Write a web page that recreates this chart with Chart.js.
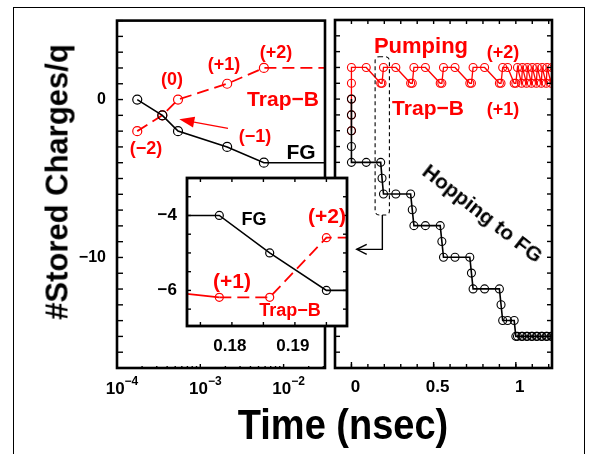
<!DOCTYPE html>
<html><head><meta charset="utf-8">
<script src="https://cdn.jsdelivr.net/npm/chart.js@4.4.1/dist/chart.umd.min.js"></script>
<style>
html,body{margin:0;padding:0;background:#fff;}
#wrap{position:relative;width:589px;height:454px;overflow:hidden;background:#fff;font-family:"Liberation Sans",Arial,Helvetica,sans-serif;font-weight:bold;}
#wrap canvas{position:absolute;left:0;top:0;}
.t{position:absolute;white-space:nowrap;line-height:1;transform:translate(-50%,-50%);color:#000;}
.r{color:#ff0000;}
</style></head><body>
<div id="wrap">
<div style="position:absolute;left:13px;top:7px;width:570px;height:470px;border:1.5px solid #000;"></div>
<canvas id="cL" width="589" height="454"></canvas>
<canvas id="cR" width="589" height="454"></canvas>
<canvas id="cI" width="589" height="454"></canvas>

<div class="t" style="left:57px;top:182px;font-size:31px;transform:translate(-50%,-50%) rotate(-90deg);">#Stored Charges/q</div>
<div class="t" style="left:343px;top:425px;font-size:38px;transform:translate(-50%,-50%) scaleY(1.1);">Time (nsec)</div>

<div class="t r" style="left:146px;top:148px;font-size:18px;">(−2)</div>
<div class="t r" style="left:172px;top:79px;font-size:18px;">(0)</div>
<div class="t r" style="left:224px;top:64px;font-size:18px;">(+1)</div>
<div class="t r" style="left:276px;top:52px;font-size:18px;">(+2)</div>
<div class="t r" style="left:283px;top:98px;font-size:21px;">Trap−B</div>
<div class="t r" style="left:255px;top:136px;font-size:18px;">(−1)</div>
<div class="t" style="left:301px;top:151px;font-size:21px;">FG</div>

<div class="t r" style="left:421px;top:46px;font-size:22px;">Pumping</div>
<div class="t r" style="left:503px;top:52px;font-size:18px;">(+2)</div>
<div class="t r" style="left:428px;top:107px;font-size:21px;">Trap−B</div>
<div class="t r" style="left:503px;top:109px;font-size:18px;">(+1)</div>
<div class="t" style="left:483px;top:213px;font-size:21px;transform:translate(-50%,-50%) rotate(38deg);">Hopping to FG</div>

<div class="t" style="left:254px;top:219px;font-size:18px;">FG</div>
<div class="t r" style="left:327px;top:215px;font-size:21px;">(+2)</div>
<div class="t r" style="left:232px;top:280px;font-size:21px;">(+1)</div>
<div class="t r" style="left:290px;top:310px;font-size:18px;">Trap−B</div>
</div>
<script>
// ================= DATA =================
// Left panel (log time axis)
const leftTime = [1.75e-4, 3.5e-4, 5.4e-4, 2.1e-3, 5.8e-3, 0.05];
const leftFG   = [0, -1, -2, -3, -4, -4];
const leftTrap = [-2, -1, 0, 1, 2, 2];
const leftXTicks  = [1e-4, 1e-3, 1e-2];
const leftXLabels = ['10^−4', '10^−3', '10^−2'];
const leftXMinor  = [2e-4,3e-4,4e-4,5e-4,6e-4,7e-4,8e-4,9e-4,2e-3,3e-3,4e-3,5e-3,6e-3,7e-3,8e-3,9e-3,2e-2,3e-2];
const yTicks      = [0, -10];
const yTickLabels = ['0', '−10'];
const yMinor      = [5,4,3,2,1,0,-1,-2,-3,-4,-5,-6,-7,-8,-9,-10,-11,-12,-13,-14,-15,-16,-17];

// Right panel (linear time axis)
const rightTime = [0,0,0,0,0, 0.09, 0.178,0.186,0.195, 0.27, 0.36,0.37,0.38, 0.45, 0.54,0.55,0.56, 0.63, 0.72,0.73,0.74, 0.81, 0.90,0.91,0.92, 0.95, 0.99,1.00,
  1.01,1.035,1.04,1.065,1.07,1.095,1.10,1.125,1.13,1.155,1.16,1.185,1.19,1.215,1.22];
const rightFG = [0,-1,-2,-3,-4, -4, -4,-5,-6, -6, -6,-7,-8, -8, -8,-9,-10, -10, -10,-11,-12, -12, -12,-13,-14, -14, -14,-15,
  -15,-15,-15,-15,-15,-15,-15,-15,-15,-15,-15,-15,-15,-15,-15];
const rightTrap = [-2,-1,0,1,2, 2, 1,1,2, 2, 1,1,2, 2, 1,1,2, 2, 1,1,2, 2, 1,1,2, 2, 1,1,
  2,1,2,1,2,1,2,1,2,1,2,1,2,1,2];
const rightXTicks  = [0, 0.5, 1];
const rightXLabels = ['0', '0.5', '1'];
const rightXMinor  = [-0.1,0,0.1,0.2,0.3,0.4,0.5,0.6,0.7,0.8,0.9,1.0,1.1,1.2];

// Inset (zoom of right panel around t = 0.18 ns)
const insetXTicks  = [0.18, 0.19];
const insetXLabels = ['0.18', '0.19'];
const insetYTicks  = [-4, -6];
const insetYLabels = ['−4', '−6'];
const insetYMinor  = [-3.5,-4,-4.5,-5,-5.5,-6,-6.5];
const insetXMinor  = [0.175,0.18,0.185,0.19,0.195];

// ================= HELPERS =================
const FONT = '"Liberation Sans", Arial, sans-serif';
const RED = '#ff0000';
const LX_MAX = 0.0314;

function pts(xs, ys){ return xs.map((x,i)=>({x:x, y:ys[i]})); }

function framePlugin(name, spec){
  return { id:'frame_'+name,
    beforeDatasetsDraw(chart){
      if(!spec.fill) return;
      const a = chart.chartArea, ctx = chart.ctx;
      ctx.save(); ctx.fillStyle = '#fff'; ctx.fillRect(a.left, a.top, a.width, a.height); ctx.restore();
    },
    afterDatasetsDraw(chart){
      const a = chart.chartArea, ctx = chart.ctx;
      ctx.save();
      ctx.strokeStyle = '#000'; ctx.lineWidth = 1.4;
      for(const tk of spec.ticks){
        const sc = chart.scales[tk.axis];
        for(const v of tk.values){
          const p = sc.getPixelForValue(v);
          for(const side of tk.sides){
            ctx.beginPath();
            if(side==='bottom'){ ctx.moveTo(p,a.bottom); ctx.lineTo(p,a.bottom-tk.len); }
            else if(side==='top'){ ctx.moveTo(p,a.top); ctx.lineTo(p,a.top+tk.len); }
            else if(side==='left'){ ctx.moveTo(a.left,p); ctx.lineTo(a.left+tk.len,p); }
            else { ctx.moveTo(a.right,p); ctx.lineTo(a.right-tk.len,p); }
            ctx.stroke();
          }
        }
      }
      ctx.lineWidth = spec.frameWidth;
      ctx.strokeRect(a.left, a.top, a.width, a.height);
      ctx.restore();
    }
  };
}

const base = () => ({ responsive:false, animation:false, devicePixelRatio:1, events:[],
  plugins:{ legend:{display:false}, tooltip:{enabled:false} } });

function tickFont(size){ return {family:FONT, size:size, weight:'bold'}; }
const noGrid = {display:false, drawTicks:false};

// ================= LEFT PANEL =================
const leftArrow = { id:'leftArrow', afterDatasetsDraw(chart){
  const {ctx, scales:{x,y}} = chart;
  const tx = x.getPixelForValue(5.6e-4), ty = y.getPixelForValue(-1.25);
  const sx = x.getPixelForValue(2.15e-3), sy = y.getPixelForValue(-1.83);
  const ang = Math.atan2(sy-ty, sx-tx), L = 15, W = 5.5;
  const bx = tx + L*Math.cos(ang), by = ty + L*Math.sin(ang);
  ctx.save(); ctx.strokeStyle = RED; ctx.fillStyle = RED; ctx.lineWidth = 1.3;
  ctx.beginPath(); ctx.moveTo(sx,sy); ctx.lineTo(bx,by); ctx.stroke();
  ctx.beginPath(); ctx.moveTo(tx,ty);
  ctx.lineTo(bx + W*Math.sin(ang), by - W*Math.cos(ang));
  ctx.lineTo(bx - W*Math.sin(ang), by + W*Math.cos(ang));
  ctx.closePath(); ctx.fill();
  ctx.restore();
}};

// power-of-ten tick labels with a real superscript exponent, placed at the log scale's ticks
const logLabels = { id:'logLabels', afterDraw(chart){
  const {ctx} = chart; const sx = chart.scales.x;
  ctx.save(); ctx.fillStyle = '#000'; ctx.textAlign = 'left'; ctx.textBaseline = 'alphabetic';
  sx.ticks.forEach((t, i) => {
    const parts = leftXLabels[i].split('^');
    const px = sx.getPixelForValue(t.value) + 5;
    ctx.font = 'bold 17px ' + FONT; const wb = ctx.measureText(parts[0]).width;
    ctx.font = 'bold 12px ' + FONT; const we = ctx.measureText(parts[1]).width;
    const left = px - (wb + we) / 2;
    const yb = sx.top + 25.5;
    ctx.font = 'bold 17px ' + FONT; ctx.fillText(parts[0], left, yb);
    ctx.font = 'bold 12px ' + FONT; ctx.fillText(parts[1], left + wb, yb - 8.5);
  });
  ctx.restore();
}};

new Chart(document.getElementById('cL'), {
  type:'scatter',
  data:{ datasets:[
    { data: pts(leftTime, leftFG), showLine:true, borderColor:'#000', borderWidth:1.6,
      pointRadius: leftTime.map(t => t > LX_MAX ? 0 : 4.5), pointBorderColor:'#000',
      pointBackgroundColor:'rgba(0,0,0,0)', pointBorderWidth:1.2 },
    { data: pts(leftTime, leftTrap), showLine:true, borderColor:RED, borderWidth:1.8, borderDash:[12,6],
      pointRadius: leftTime.map(t => t > LX_MAX ? 0 : 4.5), pointBorderColor:RED,
      pointBackgroundColor:'rgba(0,0,0,0)', pointBorderWidth:1.2 }
  ]},
  options: Object.assign(base(), {
    layout:{ padding:{left:0, top:20, right:264, bottom:0} },
    scales:{
      x:{ type:'logarithmic', position:'bottom', min:1e-4, max:LX_MAX,
          grid:noGrid, border:{display:false},
          afterFit: s => { s.height = 86; },
          afterBuildTicks: s => { s.ticks = leftXTicks.map(v => ({value:v})); },
          ticks:{ display:false, autoSkip:false, callback:(v,i) => leftXLabels[i] } },
      y:{ type:'linear', min:-17, max:5, grid:noGrid, border:{display:false},
          afterFit: s => { s.width = 117; },
          afterBuildTicks: s => { s.ticks = yTicks.map(v => ({value:v})); },
          ticks:{ padding:11, color:'#000', font:tickFont(16), callback:(v,i) => yTickLabels[i] } }
    }
  }),
  plugins:[ framePlugin('L', { frameWidth:2.6, ticks:[
      {axis:'x', values:leftXMinor, len:2, sides:['bottom']},
      {axis:'x', values:leftXTicks, len:4, sides:['bottom']},
      {axis:'y', values:yMinor, len:6, sides:['left']} ]}), leftArrow, logLabels ]
});

// ================= RIGHT PANEL =================
const rightExtras = { id:'rightExtras', afterDatasetsDraw(chart){
  const {ctx, scales:{x,y}} = chart;
  const L = x.getPixelForValue(0.144), R = x.getPixelForValue(0.231);
  const T = y.getPixelForValue(2.68), B = y.getPixelForValue(-7.33);
  ctx.save(); ctx.strokeStyle = '#000'; ctx.lineWidth = 1.1; ctx.setLineDash([4,3]);
  ctx.beginPath(); ctx.roundRect(L, T, R-L, B-T, 4); ctx.stroke();
  ctx.setLineDash([]); ctx.lineWidth = 1.4;
  const mx = x.getPixelForValue(0.188), ay = y.getPixelForValue(-9.5), tip = x.getPixelForValue(0.032);
  ctx.beginPath(); ctx.moveTo(mx, B); ctx.lineTo(mx, ay); ctx.lineTo(tip, ay); ctx.stroke();
  ctx.beginPath(); ctx.moveTo(tip+10, ay-5); ctx.lineTo(tip, ay); ctx.lineTo(tip+10, ay+5); ctx.stroke();
  ctx.restore();
}};

new Chart(document.getElementById('cR'), {
  type:'scatter',
  data:{ datasets:[
    { data: pts(rightTime, rightFG), showLine:true, borderColor:'#000', borderWidth:1.6,
      pointRadius:4, pointBorderColor:'#000', pointBackgroundColor:'rgba(0,0,0,0)', pointBorderWidth:1.1 },
    { data: pts(rightTime, rightTrap), showLine:true, borderColor:RED, borderWidth:1.3,
      pointRadius:4, pointBorderColor:RED, pointBackgroundColor:'rgba(0,0,0,0)', pointBorderWidth:1.1 }
  ]},
  options: Object.assign(base(), {
    layout:{ padding:{left:335, top:20, right:37, bottom:0} },
    scales:{
      x:{ type:'linear', position:'bottom', min:-0.1, max:1.22, grid:noGrid, border:{display:false},
          afterFit: s => { s.height = 86; },
          afterBuildTicks: s => { s.ticks = rightXTicks.map(v => ({value:v})); },
          ticks:{ autoSkip:false, maxRotation:0, minRotation:0, padding:9, labelOffset:4, color:'#000',
                  font:tickFont(17), callback:(v,i) => rightXLabels[i] } },
      y:{ type:'linear', display:false, min:-17, max:5 }
    }
  }),
  plugins:[ framePlugin('R', { frameWidth:2.6, ticks:[
      {axis:'x', values:rightXMinor, len:4, sides:['bottom','top']},
      {axis:'x', values:rightXTicks, len:6, sides:['bottom']},
      {axis:'y', values:yMinor, len:5, sides:['left','right']} ]}), rightExtras ]
});

// ================= INSET =================
new Chart(document.getElementById('cI'), {
  type:'scatter',
  data:{ datasets:[
    { data: pts(rightTime, rightFG), showLine:true, borderColor:'#000', borderWidth:1.6, yAxisID:'y',
      pointRadius:4, pointBorderColor:'#000', pointBackgroundColor:'rgba(0,0,0,0)', pointBorderWidth:1.2 },
    { data: pts(rightTime, rightTrap), showLine:true, borderColor:RED, borderWidth:1.8, yAxisID:'y2',
      segment:{ borderDash: c => c.p0.parsed.x >= 0.177 ? [12,6] : undefined },
      pointRadius:4, pointBorderColor:RED, pointBackgroundColor:'rgba(0,0,0,0)', pointBorderWidth:1.2 }
  ]},
  options: Object.assign(base(), {
    layout:{ padding:{left:0, top:178, right:242, bottom:0} },
    scales:{
      x:{ type:'linear', position:'bottom', min:0.17287, max:0.19827, grid:noGrid, border:{display:false},
          afterFit: s => { s.height = 128; },
          afterBuildTicks: s => { s.ticks = insetXTicks.map(v => ({value:v})); },
          ticks:{ autoSkip:false, maxRotation:0, minRotation:0, padding:10, labelOffset:-2, color:'#000',
                  font:tickFont(17), callback:(v,i) => insetXLabels[i] } },
      y:{ type:'linear', position:'left', min:-6.95, max:-3, grid:noGrid, border:{display:false},
          afterFit: s => { s.width = 187; },
          afterBuildTicks: s => { s.ticks = insetYTicks.map(v => ({value:v})); },
          ticks:{ padding:10, color:'#000', font:tickFont(17), callback:(v,i) => insetYLabels[i] } },
      y2:{ type:'linear', display:false, min:0.52, max:3.0 }
    }
  }),
  plugins:[ framePlugin('I', { fill:true, frameWidth:2.8, ticks:[
      {axis:'x', values:insetXMinor, len:4, sides:['bottom','top']},
      {axis:'y', values:insetYMinor, len:4, sides:['left','right']} ]}) ]
});
</script>
</body></html>
